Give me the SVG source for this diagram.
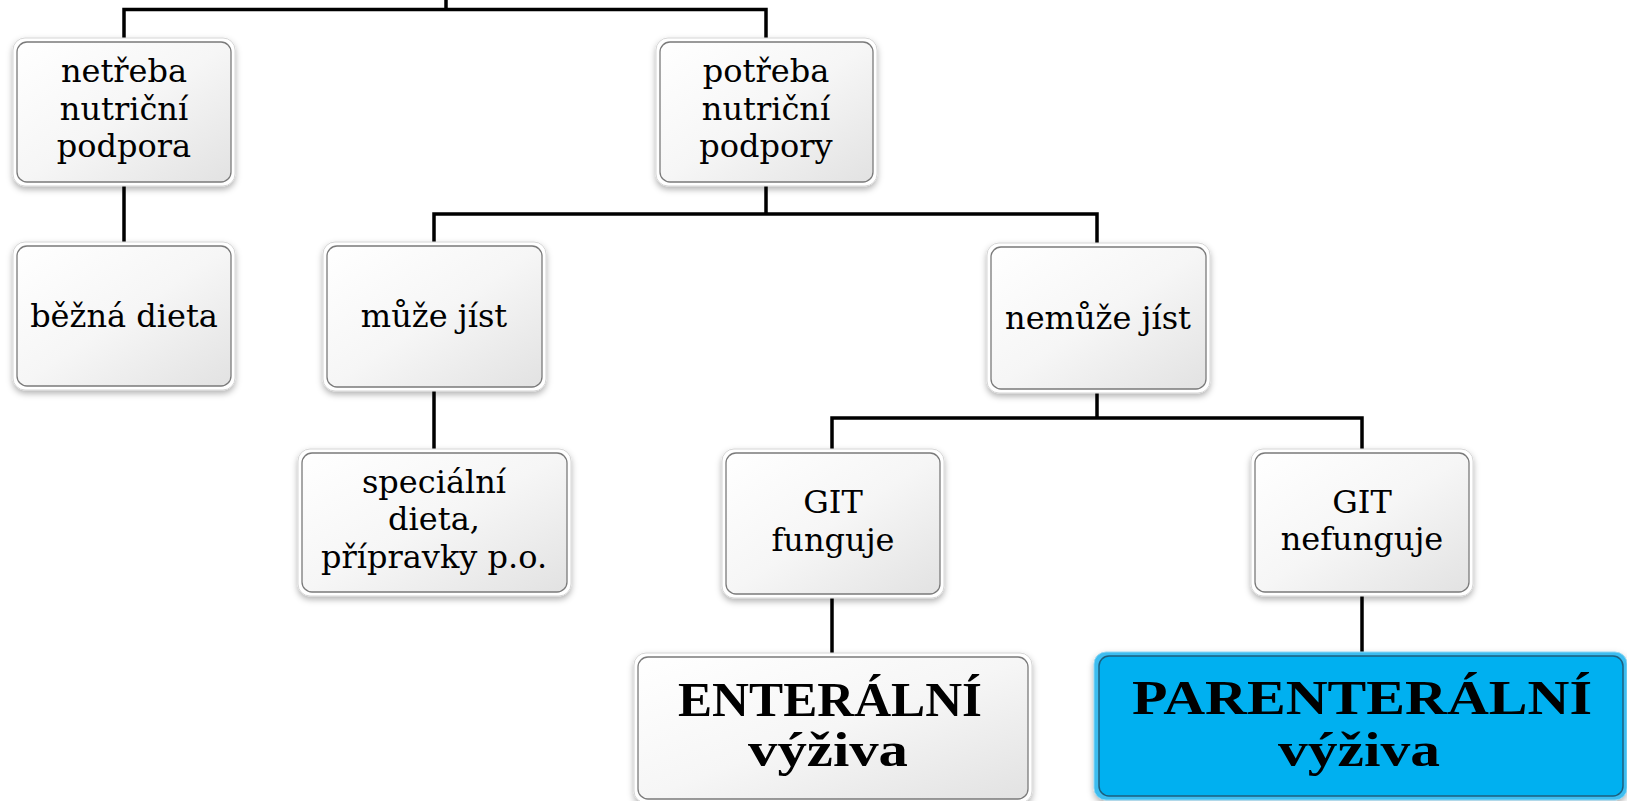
<svg xmlns="http://www.w3.org/2000/svg" width="1627" height="801" viewBox="0 0 1627 801">
<style>
.rim{fill:#ffffff;stroke:#d6d6d6;stroke-width:1;filter:url(#sh)}
.box{fill:url(#g);stroke:#7a7a7a;stroke-width:1.3}
.rimb{fill:#3cbdf0;stroke:#8fd6f2;stroke-width:1;filter:url(#sh)}
.boxb{fill:#00B0F0;stroke:#1c5f7e;stroke-width:1.5}
.t{font-family:"DejaVu Serif","Liberation Serif",serif;font-size:32px;fill:#000;text-anchor:middle}
.b{font-family:"Liberation Serif","Times New Roman",serif;font-weight:bold;font-size:48px;fill:#000;text-anchor:middle}
.c{stroke:#000;stroke-width:3.5;fill:none}
</style>
<defs>
<linearGradient id="g" x1="0" y1="0" x2="1" y2="1">
<stop offset="0" stop-color="#ffffff"/>
<stop offset="0.5" stop-color="#f6f6f6"/>
<stop offset="1" stop-color="#e2e2e2"/>
</linearGradient>
<filter id="sh" x="-10%" y="-10%" width="120%" height="130%">
<feDropShadow dx="0" dy="3" stdDeviation="3" flood-color="#000" flood-opacity="0.3"/>
</filter>
</defs>
<rect width="1627" height="801" fill="#ffffff"/>
<g id="connectors">
<path class="c" d="M446 0V9.5M124 42V9.5H766V42"/>
<path class="c" d="M124 182V246"/>
<path class="c" d="M766 182V214M434 246V214H1097V247"/>
<path class="c" d="M434 387V453"/>
<path class="c" d="M1097 389V418M832 453V418H1362V453"/>
<path class="c" d="M832 594V657"/>
<path class="c" d="M1362 592V655"/>
</g>
<g id="n-netreba">
<rect class="rim" x="13" y="38" width="222" height="148" rx="12"/>
<rect class="box" x="17" y="42" width="214" height="140" rx="10"/>
<text class="t" x="124" y="82">netřeba</text>
<text class="t" x="124" y="120">nutriční</text>
<text class="t" x="124" y="157">podpora</text>
</g>
<g id="n-potreba">
<rect class="rim" x="656" y="38" width="221" height="148" rx="12"/>
<rect class="box" x="660" y="42" width="213" height="140" rx="10"/>
<text class="t" x="766" y="82">potřeba</text>
<text class="t" x="766" y="120">nutriční</text>
<text class="t" x="766" y="157">podpory</text>
</g>
<g id="n-bezna">
<rect class="rim" x="13" y="242" width="222" height="148" rx="12"/>
<rect class="box" x="17" y="246" width="214" height="140" rx="10"/>
<text class="t" x="124" y="327">běžná dieta</text>
</g>
<g id="n-muze">
<rect class="rim" x="323" y="242" width="223" height="149" rx="12"/>
<rect class="box" x="327" y="246" width="215" height="141" rx="10"/>
<text class="t" x="434" y="327">může jíst</text>
</g>
<g id="n-nemuze">
<rect class="rim" x="987" y="243" width="223" height="150" rx="12"/>
<rect class="box" x="991" y="247" width="215" height="142" rx="10"/>
<text class="t" x="1098" y="329">nemůže jíst</text>
</g>
<g id="n-specialni">
<rect class="rim" x="298" y="449" width="273" height="147" rx="12"/>
<rect class="box" x="302" y="453" width="265" height="139" rx="10"/>
<text class="t" x="434" y="493">speciální</text>
<text class="t" x="434" y="530">dieta,</text>
<text class="t" x="434" y="568">přípravky p.o.</text>
</g>
<g id="n-git-funguje">
<rect class="rim" x="722" y="449" width="222" height="149" rx="12"/>
<rect class="box" x="726" y="453" width="214" height="141" rx="10"/>
<text class="t" x="833" y="513">GIT</text>
<text class="t" x="833" y="551">funguje</text>
</g>
<g id="n-git-nefunguje">
<rect class="rim" x="1251" y="449" width="222" height="147" rx="12"/>
<rect class="box" x="1255" y="453" width="214" height="139" rx="10"/>
<text class="t" x="1362" y="513">GIT</text>
<text class="t" x="1362" y="550">nefunguje</text>
</g>
<g id="n-enteralni">
<rect class="rim" x="634" y="653" width="398" height="150" rx="12"/>
<rect class="box" x="638" y="657" width="390" height="142" rx="10"/>
<text class="b" x="830" y="716" textLength="304" lengthAdjust="spacingAndGlyphs">ENTERÁLNÍ</text>
<text class="b" x="828" y="766" textLength="160" lengthAdjust="spacingAndGlyphs">výživa</text>
</g>
<g id="n-parenteralni">
<rect class="rimb" x="1094" y="652" width="533" height="148" rx="12"/>
<rect class="boxb" x="1099" y="656" width="524" height="140" rx="10"/>
<text class="b" x="1362" y="714" textLength="460" lengthAdjust="spacingAndGlyphs">PARENTERÁLNÍ</text>
<text class="b" x="1359" y="766" textLength="162" lengthAdjust="spacingAndGlyphs">výživa</text>
</g>
</svg>
